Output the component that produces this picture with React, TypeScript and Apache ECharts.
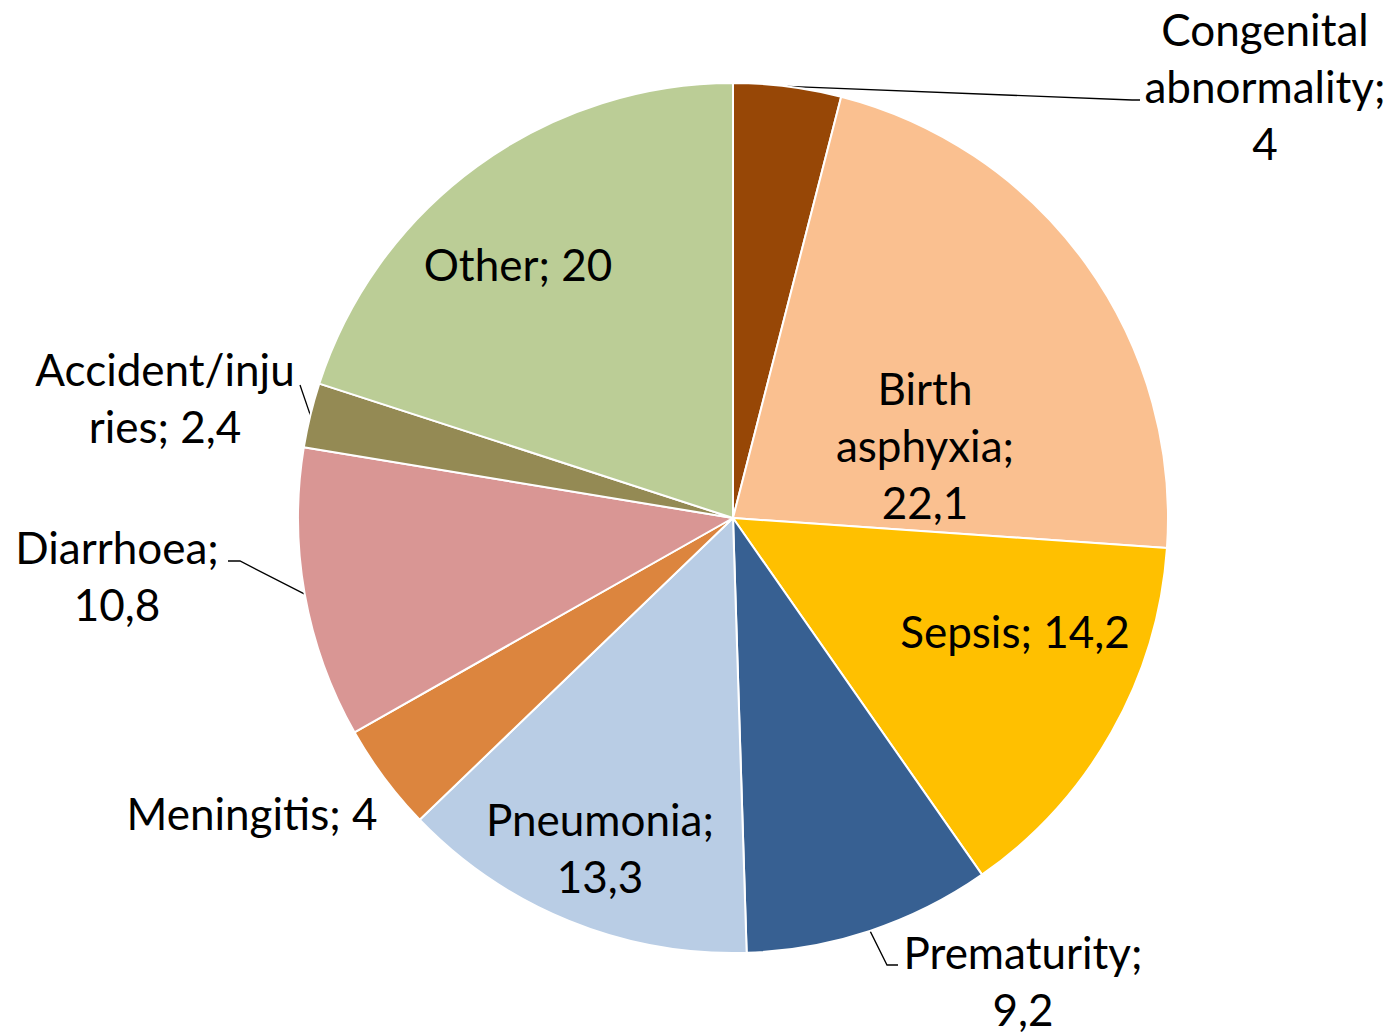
import React, { useEffect, useRef } from "react";
import * as echarts from "echarts";

const categories = [
  "Congenital abnormality",
  "Birth asphyxia",
  "Sepsis",
  "Prematurity",
  "Pneumonia",
  "Meningitis",
  "Diarrhoea",
  "Accident/injuries",
  "Other",
];
const values = [4, 22.1, 14.2, 9.2, 13.3, 4, 10.8, 2.4, 20];
const colors = [
  "#974706",
  "#FAC090",
  "#FFC000",
  "#376092",
  "#B9CDE5",
  "#DC853E",
  "#D99694",
  "#948A54",
  "#BBCD96",
];
// label text as wrapped in the picture
const labelNames = [
  "Congenital\nabnormality;",
  "Birth\nasphyxia;",
  "Sepsis;",
  "Prematurity;",
  "Pneumonia;",
  "Meningitis;",
  "Diarrhoea;",
  "Accident/inju\nries;",
  "Other;",
];
const labelSeparators = ["\n", "\n", " ", "\n", "\n", " ", "\n", " ", " "];
const hasLeader = [true, false, false, true, false, false, true, true, false];

// label layout (style): center of label text and leader line bend points
const CX = 733;
const CY = 518;
const R = 435;
const labelPos: [number, number][] = [
  [1265, 86],
  [925, 445],
  [1015, 631],
  [1023, 980],
  [600, 847],
  [252, 813],
  [117, 575],
  [165, 397],
  [518, 264],
];
const leaderBends: [number, number][][] = [
  [[1132, 100], [1140, 100]],
  [],
  [],
  [[887, 965], [898, 965]],
  [],
  [],
  [[240, 561], [228, 561]],
  [[300, 385]],
  [],
];

function fmt(v: number) {
  return String(v).replace(".", ",");
}

export default function App() {
  const ref = useRef<HTMLDivElement>(null);
  useEffect(() => {
    document.body.style.margin = "0";
    const chart = echarts.init(ref.current!, undefined, { renderer: "svg" });
    const total = values.reduce((a, b) => a + b, 0);
    const midAngles: number[] = [];
    let acc = 0;
    values.forEach((v) => {
      midAngles.push(((acc + v / 2) / total) * Math.PI * 2);
      acc += v;
    });
    chart.setOption({
      animation: false,
      backgroundColor: "#ffffff",
      series: [
        {
          type: "pie",
          center: [CX, CY],
          radius: R,
          startAngle: 90,
          clockwise: true,
          avoidLabelOverlap: false,
          itemStyle: { borderColor: "#ffffff", borderWidth: 2 },
          label: {
            show: true,
            position: "outside",
            color: "#000000",
            fontFamily: "Lato",
            fontSize: 44,
            lineHeight: 57,
            align: "center",
            formatter: (p: any) =>
              labelNames[p.dataIndex] + labelSeparators[p.dataIndex] + fmt(p.value),
          },
          labelLine: {
            show: true,
            lineStyle: { color: "#000000", width: 1.3 },
          },
          labelLayout: (p: any) => {
            const i = p.dataIndex;
            const a = midAngles[i];
            const start: [number, number] = [CX + R * Math.sin(a), CY - R * Math.cos(a)];
            const pts = [start, ...leaderBends[i]];
            const res: any = {
              x: labelPos[i][0],
              y: labelPos[i][1],
              align: "center",
              verticalAlign: "middle",
            };
            if (hasLeader[i]) res.labelLinePoints = pts;
            return res;
          },
          data: categories.map((name, i) => ({
            name,
            value: values[i],
            itemStyle: { color: colors[i] },
            labelLine: { show: hasLeader[i] },
          })),
        },
      ],
    });
    return () => chart.dispose();
  }, []);
  return (
    <div
      ref={ref}
      style={{ position: "absolute", left: 0, top: 0, width: 1394, height: 1035 }}
    />
  );
}
